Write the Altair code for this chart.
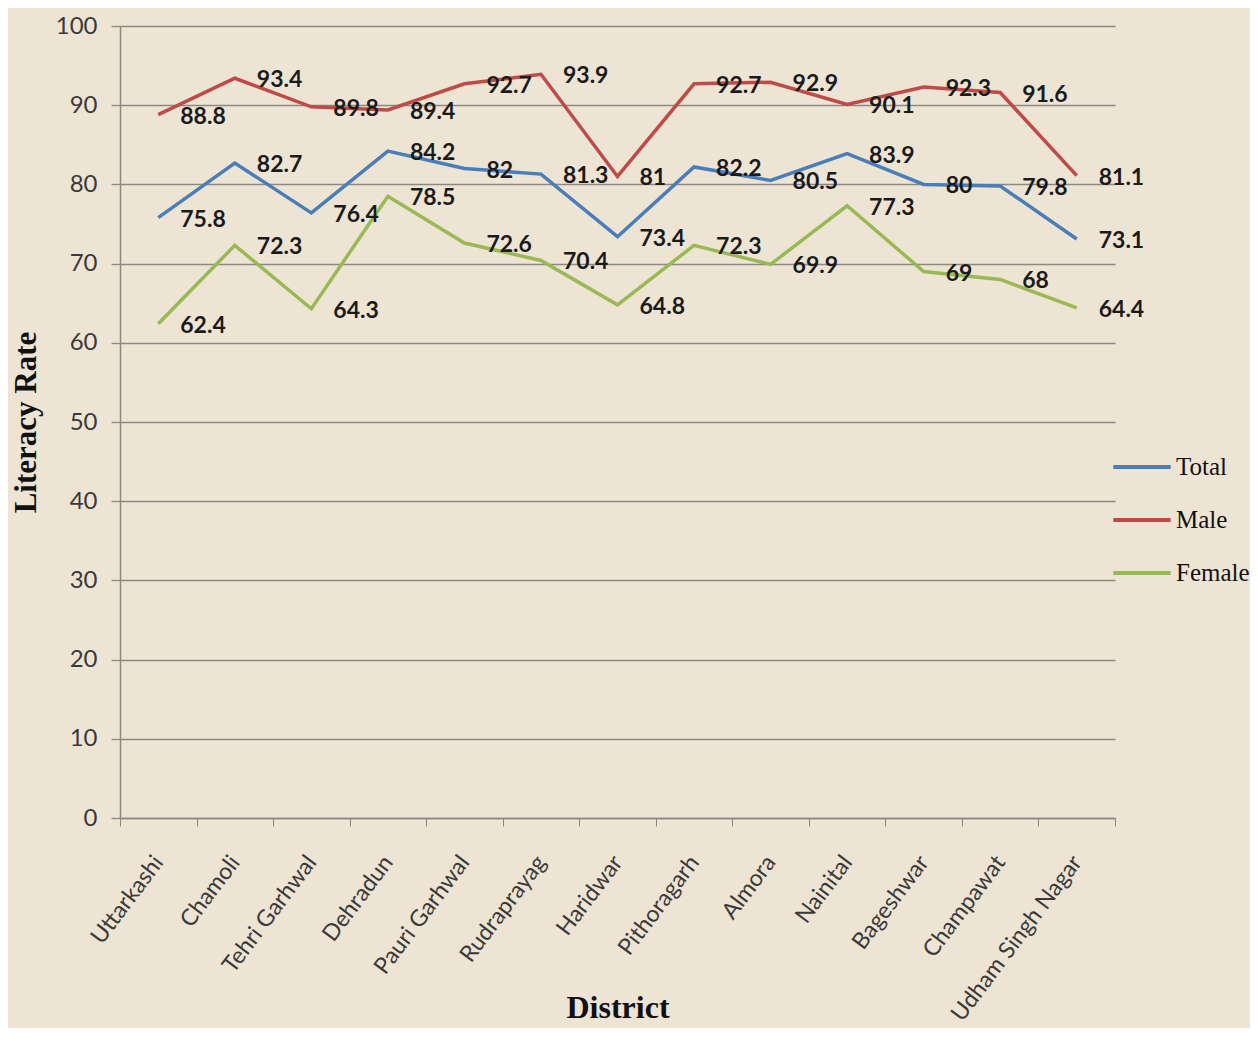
import altair as alt
import pandas as pd

districts = ["Uttarkashi", "Chamoli", "Tehri Garhwal", "Dehradun", "Pauri Garhwal",
             "Rudraprayag", "Haridwar", "Pithoragarh", "Almora", "Nainital",
             "Bageshwar", "Champawat", "Udham Singh Nagar"]
total = [75.8, 82.7, 76.4, 84.2, 82.0, 81.3, 73.4, 82.2, 80.5, 83.9, 80.0, 79.8, 73.1]
male = [88.8, 93.4, 89.8, 89.4, 92.7, 93.9, 81.0, 92.7, 92.9, 90.1, 92.3, 91.6, 81.1]
female = [62.4, 72.3, 64.3, 78.5, 72.6, 70.4, 64.8, 72.3, 69.9, 77.3, 69.0, 68.0, 64.4]
series = ["Total", "Male", "Female"]
colors = ["#4A7EBB", "#BE4B48", "#98B954"]

rows = []
for s, vals in zip(series, [total, male, female]):
    for d, v in zip(districts, vals):
        rows.append({"District": d, "Series": s, "Rate": v,
                     "Label": f"{v:g}"})
df = pd.DataFrame(rows)

BG = "#EEE4D4"
GRID = "#8C8882"

x = alt.X("District:N", sort=districts, bandPosition=0.5,
          scale=alt.Scale(type="band", paddingInner=0, paddingOuter=0),
          axis=alt.Axis(title="District", labelAngle=-53, labelAlign="right",
                        labelBaseline="middle", labelPadding=32, labelLimit=0,
                        labelFont="Lato", labelFontSize=23, labelColor="#3A3A3A",
                        tickBand="extent", ticks=True, tickSize=8, tickColor=GRID,
                        domainColor=GRID, domainWidth=1.5, grid=False,
                        titleFont="Liberation Serif", titleFontWeight="bold",
                        titleFontSize=32, titleColor="#111111",
                        titleY=199, titleBaseline="alphabetic"))
y = alt.Y("Rate:Q",
          scale=alt.Scale(domain=[0, 100], nice=False, zero=True),
          axis=alt.Axis(title="Literacy Rate", values=list(range(0, 101, 10)),
                        labelFont="Lato", labelFontSize=24, labelColor="#3A3A3A",
                        labelPadding=14, tickSize=9, tickColor=GRID, tickWidth=1.3,
                        domainColor=GRID, domainWidth=1.5,
                        grid=True, gridColor=GRID, gridWidth=1.3,
                        titleFont="Liberation Serif", titleFontWeight="bold",
                        titleFontSize=31, titleColor="#111111",
                        titleX=-78, titleBaseline="bottom", titleAngle=-90))
color = alt.Color("Series:N", sort=series,
                  scale=alt.Scale(domain=series, range=colors),
                  legend=alt.Legend(title=None, orient="none", legendX=991, legendY=410,
                                    symbolType="stroke", symbolSize=3300,
                                    symbolStrokeWidth=4, labelFont="Liberation Serif",
                                    labelFontSize=25, labelColor="#111111",
                                    labelOffset=3, rowPadding=9))

lines = alt.Chart(df).mark_line(strokeWidth=3.5).encode(x=x, y=y, color=color)
labels = alt.Chart(df).mark_text(align="left", baseline="middle", dx=22, dy=2,
                                 font="Lato", fontWeight="bold", fontSize=23,
                                 color="#1A1A1A").encode(
    x=alt.X("District:N", sort=districts, bandPosition=0.5),
    y=alt.Y("Rate:Q"), text="Label:N")

chart = alt.layer(lines, labels).properties(
    width=995, height=792,
    autosize=alt.AutoSizeParams(type="none"),
    padding={"left": 112, "top": 18, "right": 135, "bottom": 210},
    background=BG,
).configure_view(stroke=None)

chart.save("out.html", embed_options={"renderer": "svg", "actions": False})
